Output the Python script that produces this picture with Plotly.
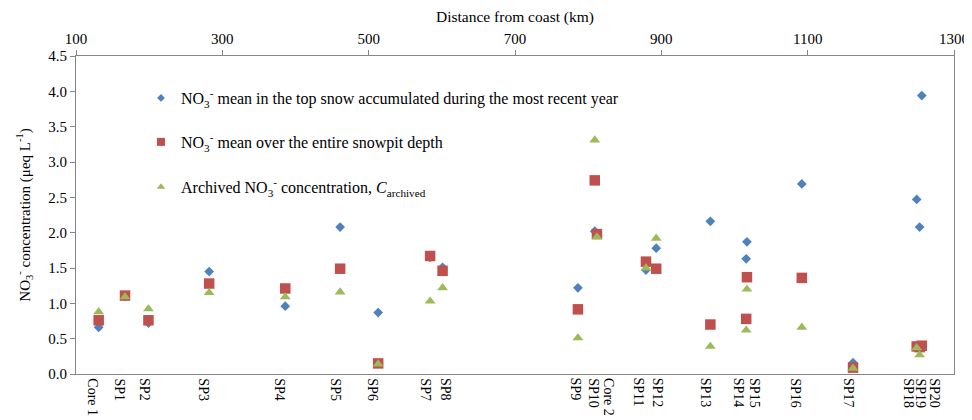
import plotly.graph_objects as go

# ---------------- data ----------------
sites = ["Core 1", "SP1", "SP2", "SP3", "SP4", "SP5", "SP6", "SP7", "SP8", "SP9",
         "SP10", "Core 2", "SP11", "SP12", "SP13", "SP14", "SP15", "SP16", "SP17",
         "SP18", "SP19", "SP20"]
distance_km = [131, 167, 199, 282, 386, 461, 513, 584, 601, 786,
               809, 812, 879, 893, 967, 1016, 1017, 1092, 1162,
               1249, 1253, 1256]
top_snow_mean = [0.66, 1.10, 0.72, 1.45, 0.96, 2.08, 0.87, 1.65, 1.51, 1.22,
                 2.02, None, 1.47, 1.78, 2.16, 1.63, 1.87, 2.69, 0.16,
                 2.47, 2.08, 3.94]
snowpit_mean = [0.76, 1.11, 0.76, 1.28, 1.21, 1.49, 0.15, 1.67, 1.46, 0.915,
                2.74, 1.98, 1.59, 1.49, 0.70, 0.78, 1.37, 1.36, 0.09,
                0.39, 0.38, 0.40]
archived = [0.88, 1.09, 0.92, 1.15, 1.09, 1.16, 0.14, 1.03, 1.22, 0.51,
            3.31, 1.94, 1.50, 1.92, 0.39, 0.62, 1.20, 0.66, 0.08,
            0.37, 0.27, None]
x_ticks = [100, 300, 500, 700, 900, 1100, 1300]

# ---------------- styling ----------------
FONT = "Liberation Serif, Times New Roman, serif"
BLUE, RED, GREEN = "#4F81BD", "#C0504D", "#9BBB59"
AXIS = "#868686"

# page body has an 8px default margin: size the figure so the plot area lands
# at the same place as in the original 972x420 picture
PAGE_OFF = 8
ML, MR, MT, MB = 76 - PAGE_OFF, 18, 56 - PAGE_OFF, 46
W, H = 972 - PAGE_OFF, 420 - PAGE_OFF
PLOT_W, PLOT_H = W - ML - MR, H - MT - MB

series = [
    ("NO<sub>3</sub><sup>-</sup> mean in the top snow accumulated during the most recent year",
     top_snow_mean, BLUE, "diamond", 7.5, 6, "legend"),
    ("NO<sub>3</sub><sup>-</sup> mean over the entire snowpit depth",
     snowpit_mean, RED, "square", 10.5, 8, "legend2"),
    ("Archived NO<sub>3</sub><sup>-</sup> concentration, <i>C</i><sub>archived</sub>",
     archived, GREEN, "triangle-up", 9.5, 7.5, "legend3"),
]

fig = go.Figure()
for name, vals, color, sym, size, lsize, leg in series:
    fig.add_trace(go.Scatter(
        x=distance_km, y=vals, mode="markers", name=name, showlegend=False,
        marker=dict(symbol=sym, size=size, color=color, line=dict(width=0)),
        cliponaxis=False))
for name, vals, color, sym, size, lsize, leg in series:
    fig.add_trace(go.Scatter(
        x=[None], y=[None], mode="markers", name=name, legend=leg,
        marker=dict(symbol=sym, size=lsize, color=color, line=dict(width=0))))

# site labels under the plot (pixel nudges to avoid overlaps, as in the original)
nudge = {"Core 1": -6, "SP1": -6, "SP2": -4, "SP3": -6, "SP4": -6, "SP5": -5,
         "SP6": -6, "SP7": -5, "SP8": 3, "SP9": -2, "SP10": -1, "Core 2": 12,
         "SP11": -7, "SP12": 2, "SP13": -4, "SP14": -7, "SP15": 8, "SP16": -6,
         "SP17": -4, "SP18": -8, "SP19": 1, "SP20": 13}
for s, d in zip(sites, distance_km):
    fig.add_annotation(x=d, xref="x", y=0, yref="paper", text=s, showarrow=False,
                       textangle=90, xanchor="center", yanchor="top",
                       xshift=nudge.get(s, 0), yshift=-2,
                       font=dict(family=FONT, size=14, color="black"))

leg_common = dict(xanchor="left", yanchor="middle", bgcolor="rgba(0,0,0,0)",
                  font=dict(family=FONT, size=16, color="black"),
                  itemwidth=30, borderwidth=0)
lx = (141 - 76) / PLOT_W
fig.update_layout(
    width=W, height=H,
    margin=dict(l=ML, r=MR, t=MT, b=MB, autoexpand=False),
    paper_bgcolor="white", plot_bgcolor="white",
    font=dict(family=FONT, size=15, color="black"),
    legend=dict(x=lx, y=(374 - 98) / PLOT_H, **leg_common),
    legend2=dict(x=lx, y=(374 - 142) / PLOT_H, **leg_common),
    legend3=dict(x=lx, y=(374 - 187) / PLOT_H, **leg_common),
    xaxis=dict(
        side="top", range=[100, 1300], tickvals=x_ticks,
        ticktext=[str(v) for v in x_ticks], automargin=False,
        ticks="outside", ticklen=5, tickcolor=AXIS, showgrid=False, zeroline=False,
        showline=True, linecolor=AXIS, linewidth=1, mirror=True,
        tickfont=dict(family=FONT, size=15),
        title=dict(text="Distance from coast (km)", standoff=6,
                   font=dict(family=FONT, size=15.5))),
    yaxis=dict(
        range=[0, 4.5], dtick=0.5, tick0=0, tickformat=".1f", automargin=False,
        ticks="outside", ticklen=5, tickcolor=AXIS, showgrid=False, zeroline=False,
        showline=True, linecolor=AXIS, linewidth=1, mirror=True,
        tickfont=dict(family=FONT, size=15),
        title=dict(text="NO<sub>3</sub><sup>-</sup> concentration (μeq L<sup>-1</sup>)",
                   standoff=14, font=dict(family=FONT, size=15))),
)

fig.write_html("out.html")
